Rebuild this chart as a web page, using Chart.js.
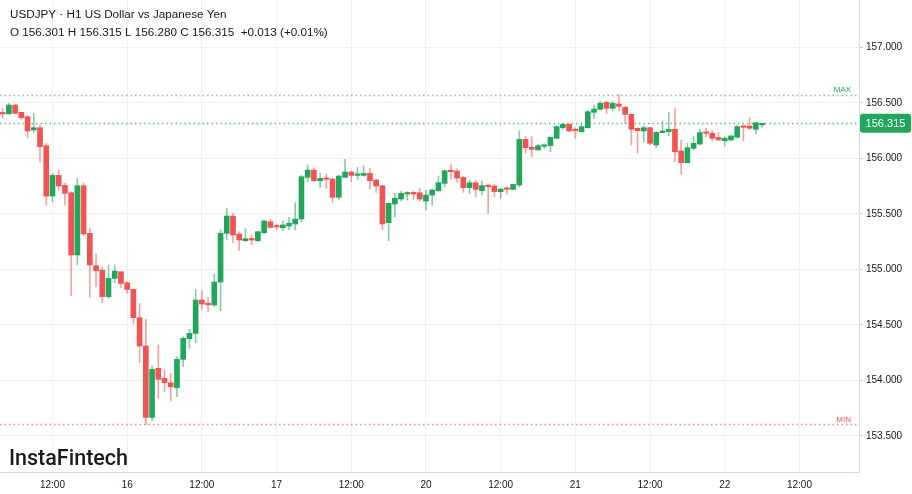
<!DOCTYPE html>
<html><head><meta charset="utf-8">
<script src="https://cdn.jsdelivr.net/npm/chart.js@4.4.1/dist/chart.umd.min.js"></script>
<style>html,body{margin:0;padding:0;background:#fff;}canvas{display:block;}</style>
</head><body>
<canvas id="c" width="912" height="494"></canvas>
<script>
// ---- data (hourly candles, USDJPY H1) ----
const openP = [156.410,156.400,156.480,156.414,156.375,156.255,156.276,156.114,155.660,155.846,
155.756,155.690,155.129,155.753,155.324,155.033,154.993,154.753,154.918,154.978,
154.879,154.819,154.564,154.309,153.666,154.108,154.018,153.978,153.933,154.189,
154.375,154.423,154.723,154.687,154.678,154.885,155.324,155.480,155.318,155.258,
155.270,155.258,155.330,155.429,155.387,155.375,155.390,155.408,155.453,155.828,
155.894,155.798,155.819,155.813,155.648,155.828,155.876,155.846,155.846,155.864,
155.804,155.753,155.420,155.588,155.633,155.678,155.693,155.690,155.615,155.669,
155.708,155.774,155.888,155.885,155.828,155.735,155.780,155.708,155.753,155.750,
155.699,155.726,155.720,155.759,156.171,156.099,156.075,156.108,156.114,156.180,
156.276,156.306,156.258,156.240,156.276,156.414,156.441,156.505,156.450,156.489,
156.459,156.396,156.270,156.246,156.276,156.120,156.231,156.240,156.261,156.066,
155.960,156.090,156.129,156.234,156.225,156.189,156.159,156.165,156.189,156.291,
156.291,156.261,156.301];
const highP = [156.450,156.495,156.483,156.414,156.381,156.405,156.300,156.135,155.864,155.894,
155.774,155.699,155.819,155.780,155.369,155.138,155.023,155.039,155.039,154.978,
154.888,154.819,154.693,154.549,154.129,154.318,154.093,154.063,154.213,154.393,
154.459,154.819,154.804,154.747,154.954,155.354,155.549,155.504,155.339,155.369,
155.309,155.345,155.444,155.450,155.408,155.438,155.468,155.600,155.849,155.939,
155.915,155.864,155.858,155.819,155.849,155.990,155.885,155.918,155.933,155.909,
155.810,155.759,155.600,155.684,155.705,155.699,155.705,155.729,155.714,155.720,
155.840,155.894,155.948,155.906,155.840,155.804,155.804,155.795,155.768,155.768,
155.729,155.744,155.768,156.246,156.195,156.195,156.126,156.132,156.195,156.294,
156.315,156.312,156.276,156.306,156.435,156.480,156.516,156.516,156.510,156.573,
156.465,156.402,156.276,156.291,156.282,156.240,156.336,156.414,156.450,156.165,
156.135,156.201,156.264,156.270,156.249,156.234,156.195,156.210,156.300,156.300,
156.366,156.324,156.315];
const lowP = [156.360,156.399,156.400,156.351,156.186,156.234,155.969,155.579,155.609,155.708,
155.579,154.762,155.039,155.303,154.747,154.843,154.699,154.738,154.879,154.834,
154.783,154.513,154.159,153.603,153.636,153.837,153.897,153.813,153.852,154.123,
154.288,154.339,154.639,154.618,154.663,154.624,155.270,155.240,155.168,155.249,
155.219,155.249,155.318,155.369,155.360,155.348,155.354,155.354,155.429,155.789,
155.789,155.738,155.726,155.603,155.624,155.828,155.789,155.810,155.840,155.723,
155.693,155.354,155.258,155.474,155.615,155.624,155.630,155.618,155.534,155.579,
155.699,155.744,155.810,155.783,155.693,155.684,155.654,155.669,155.504,155.654,
155.639,155.678,155.714,155.744,156.045,156.014,156.075,156.090,156.059,156.174,
156.261,156.240,156.180,156.234,156.270,156.360,156.435,156.405,156.426,156.426,
156.315,156.120,156.045,156.144,156.120,156.095,156.225,156.204,155.969,155.856,
155.960,156.075,156.120,156.195,156.156,156.165,156.111,156.156,156.186,156.159,
156.255,156.219,156.280];
const closeP = [156.400,156.480,156.405,156.366,156.246,156.276,156.105,155.660,155.846,155.750,
155.684,155.129,155.753,155.318,155.039,154.987,154.753,154.918,154.984,154.873,
154.819,154.564,154.309,153.666,154.099,154.009,153.978,153.942,154.189,154.378,
154.423,154.723,154.687,154.681,154.885,155.324,155.480,155.309,155.264,155.276,
155.264,155.339,155.435,155.378,155.381,155.399,155.414,155.453,155.834,155.894,
155.798,155.819,155.810,155.648,155.840,155.876,155.846,155.858,155.864,155.798,
155.750,155.408,155.594,155.639,155.684,155.690,155.678,155.633,155.669,155.714,
155.780,155.888,155.879,155.822,155.735,155.780,155.720,155.753,155.744,155.699,
155.723,155.720,155.765,156.171,156.095,156.081,156.114,156.120,156.189,156.285,
156.306,156.246,156.249,156.285,156.420,156.444,156.495,156.450,156.495,156.468,
156.396,156.261,156.249,156.276,156.135,156.234,156.246,156.261,156.059,155.960,
156.095,156.135,156.231,156.225,156.180,156.165,156.180,156.201,156.285,156.279,
156.270,156.321,156.315];

const tickIndex  = [8,20,32,44,56,68,80,92,104,116,128];
const tickLabels = ['12:00','16','12:00','17','12:00','20','12:00','21','12:00','22','12:00'];
const priceTicks = [153.5,154.0,154.5,155.0,155.5,156.0,156.5,157.0];

const titleText = 'USDJPY · H1 US Dollar vs Japanese Yen';
const ohlcText  = 'O 156.301 H 156.315 L 156.280 C 156.315  +0.013 (+0.01%)';
const brandText = 'InstaFintech';

// ---- styling ----
const UP = '#22a65c', DOWN = '#f05452';
const UP_W = 'rgba(34,166,92,0.55)', DOWN_W = 'rgba(240,84,82,0.55)';
const FONT = "'Liberation Sans', Arial, sans-serif";

const idx = openP.map((_, i) => i);
const isUp = i => closeP[i] >= openP[i];
const lastClose = closeP[closeP.length - 1];
const maxHigh = Math.max(...highP);
const minLow = Math.min(...lowP);

const overlay = {
  id: 'overlay',
  beforeDatasetsDraw(chart) {
    const { ctx, chartArea: a, scales: { y } } = chart;
    const dotted = (val, color) => {
      const py = Math.round(y.getPixelForValue(val)) + 0.5;
      ctx.save();
      ctx.strokeStyle = color; ctx.lineWidth = 1.5; ctx.setLineDash([1.5, 3]);
      ctx.beginPath(); ctx.moveTo(a.left, py); ctx.lineTo(a.right, py); ctx.stroke();
      ctx.restore();
    };
    dotted(maxHigh, 'rgba(34,166,92,0.6)');
    dotted(lastClose, 'rgba(34,166,92,0.75)');
    dotted(minLow, 'rgba(240,84,82,0.7)');
  },
  afterDraw(chart) {
    const { ctx, chartArea: a, scales: { y } } = chart;
    ctx.save();
    ctx.font = '8px ' + FONT; ctx.textAlign = 'right'; ctx.textBaseline = 'bottom';
    ctx.fillStyle = UP; ctx.fillText('MAX', a.right - 8, y.getPixelForValue(maxHigh) - 1);
    ctx.fillStyle = DOWN; ctx.fillText('MIN', a.right - 8, y.getPixelForValue(minLow) - 1);
    const py = y.getPixelForValue(lastClose);
    ctx.fillStyle = UP;
    const bx = a.right + 1, bw = 51, bh = 19;
    ctx.beginPath();
    if (ctx.roundRect) ctx.roundRect(bx, py - bh / 2, bw, bh, 3); else ctx.rect(bx, py - bh / 2, bw, bh);
    ctx.fill();
    ctx.fillStyle = '#ffffff'; ctx.font = '11px ' + FONT; ctx.textAlign = 'center'; ctx.textBaseline = 'middle';
    ctx.fillText(lastClose.toFixed(3), bx + bw / 2, py + 0.5);
    ctx.fillStyle = '#131722'; ctx.textAlign = 'left'; ctx.textBaseline = 'alphabetic';
    ctx.font = '11.7px ' + FONT;
    ctx.fillText(titleText, 10, 18);
    ctx.fillText(ohlcText, 10, 36);
    ctx.font = '500 21.5px Roboto, sans-serif';
    ctx.fillStyle = '#1b1b1b';
    ctx.fillText(brandText, 9, 465);
    ctx.restore();
  }
};

new Chart(document.getElementById('c'), {
  type: 'bar',
  data: {
    datasets: [
      {
        label: 'wick',
        data: idx.map(i => ({ x: i, y: [lowP[i], highP[i]] })),
        backgroundColor: idx.map(i => isUp(i) ? UP_W : DOWN_W),
        barThickness: 1,
        grouped: false,
        borderWidth: 0,
        borderSkipped: false,
        order: 2
      },
      {
        label: 'body',
        data: idx.map(i => ({ x: i, y: [openP[i], closeP[i]] })),
        backgroundColor: idx.map(i => isUp(i) ? UP : DOWN),
        barThickness: 5,
        grouped: false,
        minBarLength: 1.5,
        borderWidth: 0,
        borderSkipped: false,
        order: 1
      }
    ]
  },
  options: {
    responsive: false,
    animation: false,
    layout: { padding: 0 },
    plugins: { legend: { display: false }, tooltip: { enabled: false } },
    scales: {
      x: {
        type: 'linear',
        min: -0.43, max: 137.57,
        offset: false,
        afterBuildTicks: ax => { ax.ticks = tickIndex.map(v => ({ value: v })); },
        afterFit: ax => { ax.height = 22; ax.paddingLeft = 0; ax.paddingRight = 0; },
        ticks: {
          autoSkip: false, maxRotation: 0, padding: 7,
          color: '#131722', font: { size: 10, family: FONT },
          callback: (v) => { const k = tickIndex.indexOf(v); return k >= 0 ? tickLabels[k] : ''; }
        },
        grid: { color: '#f0f0f0', drawTicks: false, offset: false },
        border: { display: true, color: '#d8dbe0' }
      },
      y: {
        position: 'right',
        min: 153.174, max: 157.426,
        afterBuildTicks: ax => { ax.ticks = priceTicks.map(v => ({ value: v })); },
        afterFit: ax => { ax.width = 53; ax.paddingTop = 0; ax.paddingBottom = 0; },
        ticks: {
          padding: 3, color: '#131722', font: { size: 10, family: FONT },
          callback: v => Number(v).toFixed(3)
        },
        grid: { color: '#f0f0f0', drawTicks: true, tickLength: 4, tickColor: '#c8ccd2' },
        border: { display: true, color: '#d8dbe0' }
      }
    }
  },
  plugins: [overlay]
});
</script>
</body></html>
